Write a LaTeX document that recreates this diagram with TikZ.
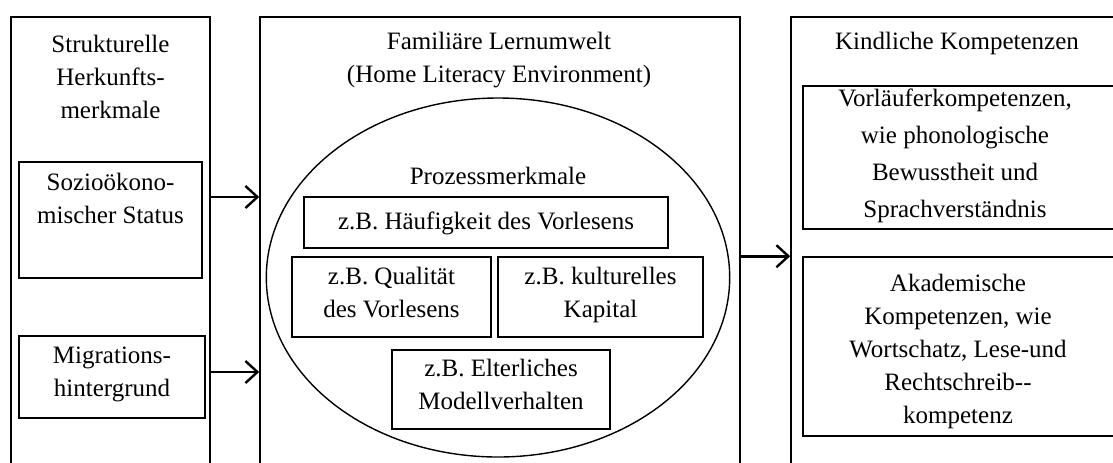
\documentclass[tikz,border=0pt]{standalone}
\usepackage{fontspec}
\setmainfont{Liberation Serif}
\usetikzlibrary{arrows.meta,fit,shapes.geometric}

\tikzset{
	panel/.style={draw, line width=0.8pt, inner sep=0pt},
	box/.style={draw, line width=0.8pt, inner sep=0pt, align=center,
		execute at begin node=\strut, execute at end node=\strut},
	txt/.style={align=center, inner sep=0pt},
	arr/.style={-{Straight Barb[length=6pt,width=11pt,line width=1.2pt]}, line width=1.3pt},
}

\begin{document}
\begin{tikzpicture}[x=0.5pt,y=-0.5pt,font=\fontsize{12.5}{16.5}\selectfont]
	\useasboundingbox (0,0) rectangle (1113,462);
	\clip (0,0) rectangle (1113,462);
	% the three columns
	\node[panel, fit={(11,17) (210,500)}]  (L) {};
	\node[panel, fit={(260,17) (740,500)}] (M) {};
	\node[panel, fit={(791,17) (1140,500)}] (R) {};
	\node[txt] (Ltitle) at (110.5,77) {Strukturelle\\Herkunfts-\\merkmale};
	\node[txt] (Mtitle) at (499,60) {Familiäre Lernumwelt\\(Home Literacy Environment)};
	\node[txt] (Rtitle) at (957,43) {Kindliche Kompetenzen};
	% left column
	\node[box, minimum width=91.5pt, minimum height=58pt] (soz) at (110.5,220) {Sozioökono-\\mischer Status\\};
	\node[box, minimum width=93pt, minimum height=41pt] (mig) at (112,377) {Migrations-\\hintergrund};
	% middle column
	\node[draw, ellipse, line width=0.7pt, minimum width=231.7pt, minimum height=179.5pt, inner sep=0pt] (E) at (498,277.5) {};
	\node[txt] (proz) at (498,176) {Prozessmerkmale};
	\node[box, minimum width=182pt, minimum height=25.5pt] (haeuf) at (486,222.5) {z.B. Häufigkeit des Vorlesens};
	\node[box, minimum width=99.5pt, minimum height=40pt] (qual) at (391.5,297) {z.B. Qualität\\des Vorlesens};
	\node[box, minimum width=102.5pt, minimum height=40pt] (kult) at (600.5,297) {z.B. kulturelles\\Kapital};
	\node[box, minimum width=109pt, minimum height=39.5pt] (elt) at (501,389.5) {z.B. Elterliches\\Modellverhalten};
	% right column
	\node[panel, fit={(803,86) (1140,229)}]  (vorbox) {};
	\node[panel, fit={(803,257) (1140,436)}] (akabox) {};
	\node[txt, font=\fontsize{12.5}{18.5}\selectfont] (vor) at (955,156)
	{Vorläuferkompetenzen,\\wie phonologische\\Bewusstheit und\\Sprachverständnis};
	\node[txt] (aka) at (958,351)
	{Akademische\\Kompetenzen, wie\\Wortschatz, Lese-und\\Rechtschreib-{}-\\kompetenz};
	% arrows
	\draw[arr] ([yshift=11.5pt]soz.east -| L.east) -- ([yshift=11.5pt]soz.east -| M.west);
	\draw[arr] ([yshift=2.5pt]mig.east -| L.east) -- ([yshift=2.5pt]mig.east -| M.west);
	\draw[arr] (akabox.north -| M.east) -- (akabox.north -| R.west);
\end{tikzpicture}
\end{document}
